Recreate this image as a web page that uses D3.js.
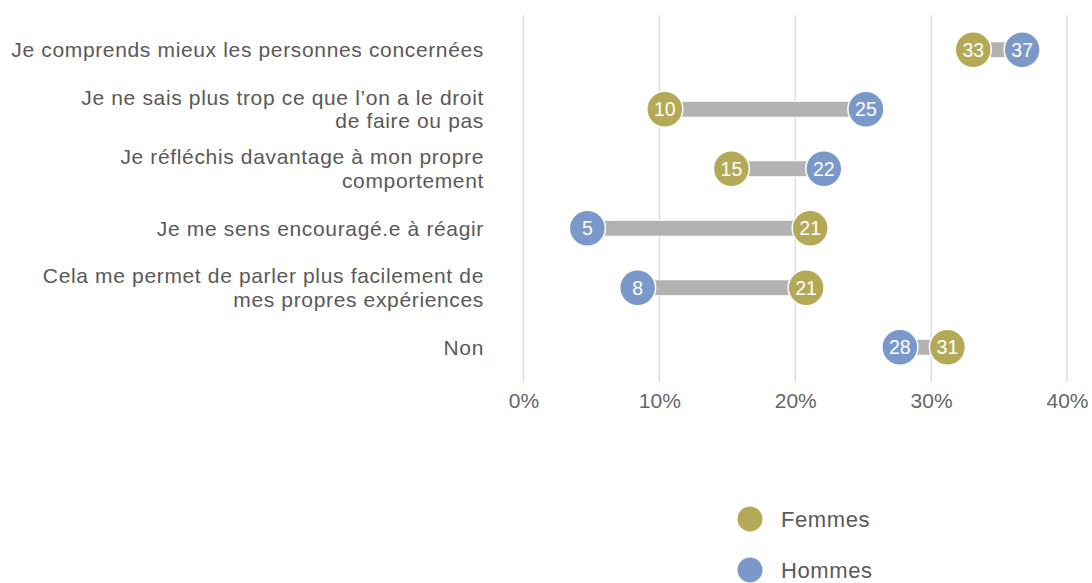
<!DOCTYPE html>
<html><head><meta charset="utf-8">
<script src="https://cdn.jsdelivr.net/npm/d3@7"></script>
<style>body{margin:0;background:#fff}svg{display:block}text{font-family:"Liberation Sans",Arial,Helvetica,sans-serif}</style>
</head><body>
<script>
const categories = [
  ["Je comprends mieux les personnes concernées"],
  ["Je ne sais plus trop ce que l’on a le droit","de faire ou pas"],
  ["Je réfléchis davantage à mon propre","comportement"],
  ["Je me sens encouragé.e à réagir"],
  ["Cela me permet de parler plus facilement de","mes propres expériences"],
  ["Non"]
];
const femmes = [33.1, 10.4, 15.3, 21.1, 20.8, 31.2];
const hommes = [36.7, 25.2, 22.1, 4.7, 8.4, 27.7];
const xTicks = [0, 10, 20, 30, 40];
const seriesNames = ["Femmes", "Hommes"];
const colors = ["#B3A957", "#7B98CA"];

const W = 1092, H = 583;
const svg = d3.select("body").append("svg").attr("width", W).attr("height", H);
const x = d3.scaleLinear().domain([0, 40]).range([523.5, 1067]);
const y = d3.scaleBand().domain(d3.range(categories.length)).range([20, 377]);
const yc = i => y(i) + y.bandwidth() / 2;

// gridlines
svg.append("g").selectAll("line").data(xTicks).join("line")
  .attr("x1", d => x(d)).attr("x2", d => x(d))
  .attr("y1", 15).attr("y2", 382)
  .attr("stroke", "#d9d9d9").attr("stroke-width", 1.3);

// axis labels
const ax = svg.append("g").attr("transform", "translate(0,401)")
  .call(d3.axisBottom(x).tickValues(xTicks).tickFormat(d => d + "%").tickSize(0).tickPadding(0));
ax.select(".domain").remove();
ax.selectAll("text").attr("font-size", 21).attr("fill", "#666").attr("dy", "0.35em")
  .attr("font-family", "'Liberation Sans', Arial, sans-serif");

// category labels
const cl = svg.append("g").selectAll("text").data(categories).join("text")
  .attr("text-anchor", "end").attr("font-size", 21).attr("fill", "#595959")
  .style("letter-spacing", "0.65px")
  .attr("transform", (d, i) => `translate(484,${yc(i)})`);
cl.each(function(lines) {
  const n = lines.length;
  d3.select(this).selectAll("tspan").data(lines).join("tspan")
    .attr("x", 0).attr("y", (d, j) => (j - (n - 1) / 2) * 23.5)
    .attr("dy", "0.35em").text(d => d);
});

// connector bars
svg.append("g").selectAll("rect").data(d3.range(categories.length)).join("rect")
  .attr("x", i => Math.min(x(femmes[i]), x(hommes[i])))
  .attr("width", i => Math.abs(x(femmes[i]) - x(hommes[i])))
  .attr("y", i => yc(i) - 8).attr("height", 16)
  .attr("fill", "#b2b2b2").attr("stroke", "#fff").attr("stroke-width", 1);

// dots
[femmes, hommes].forEach((vals, s) => {
  const g = svg.append("g");
  g.selectAll("circle").data(vals).join("circle")
    .attr("cx", d => x(d)).attr("cy", (d, i) => yc(i)).attr("r", 18)
    .attr("fill", colors[s]).attr("stroke", "#fff").attr("stroke-width", 1.5);
  g.selectAll("text").data(vals).join("text")
    .attr("x", d => x(d)).attr("y", (d, i) => yc(i)).attr("dy", "0.35em")
    .attr("text-anchor", "middle").attr("font-size", 19.5).attr("fill", "#fff")
    .text(d => Math.round(d));
});

// legend
const lg = svg.append("g").selectAll("g").data(seriesNames).join("g")
  .attr("transform", (d, i) => `translate(750,${519 + i * 51})`);
lg.append("circle").attr("r", 12.5).attr("fill", (d, i) => colors[i]);
lg.append("text").attr("x", 31).attr("dy", "0.35em").attr("font-size", 22)
  .style("letter-spacing", "0.6px")
  .attr("fill", "#595959").text(d => d);
</script>
</body></html>
